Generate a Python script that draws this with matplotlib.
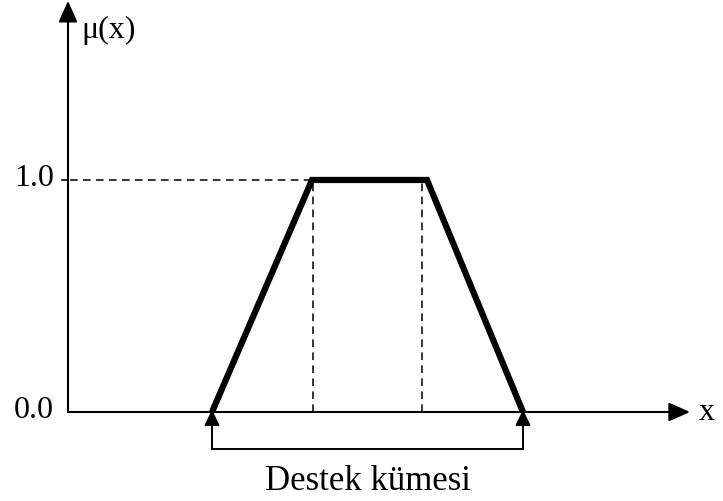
import matplotlib
matplotlib.use("Agg")
import matplotlib.pyplot as plt
from matplotlib.patches import ArrowStyle

# trapezoid membership function corners (x positions)
trap_x = [1.44, 2.44, 3.59, 4.55]
trap_y = [0.0, 1.0, 1.0, 0.0]
core_x = [2.45, 3.54]          # dashed drop lines under the plateau
support = [1.44, 4.55]         # "Destek kümesi" bracket ends
y_ticks = [0.0, 1.0]
y_tick_labels = ["0.0", "1.0"]

plt.rcParams['font.family'] = ['Liberation Serif', 'DejaVu Serif']

fig = plt.figure(figsize=(7.23, 5.02), dpi=100)
ax = fig.add_axes([0, 0, 1, 1])
ax.set_xlim(-0.68, 6.55)
ax.set_ylim(-0.3836, 1.780)
ax.axis('off')

# axes with arrow heads
big = ArrowStyle('-|>', head_length=13, head_width=5.8)
ax.annotate('', xy=(6.22, 0), xytext=(0, 0),
            arrowprops=dict(arrowstyle=big, mutation_scale=1, lw=1.5, color='k',
                            shrinkA=0, shrinkB=0))
ax.annotate('', xy=(0, 1.772), xytext=(0, 0),
            arrowprops=dict(arrowstyle=big, mutation_scale=1, lw=1.5, color='k',
                            shrinkA=0, shrinkB=0))

# tick at 1.0 and labels
ax.plot([-0.06, 0], [1.0, 1.0], color='k', lw=1.2)
for yv, lab in zip(y_ticks, y_tick_labels):
    ax.text(-0.14, yv - 0.022, lab, ha='right', va='baseline', fontsize=23)

ax.text(0.13, 1.65, "μ(x)", ha='left', va='center', fontsize=23)
ax.text(6.31, 0.0, "x", ha='left', va='center', fontsize=23)

# dashed guides
ax.plot([0.02, trap_x[1]], [1.0, 1.0], color='k', lw=1.1, linestyle=(0, (5, 3.5)))
for cx in core_x:
    ax.plot([cx, cx], [0, 1.0], color='k', lw=1.1, linestyle=(0, (5, 3.5)))

# trapezoid
ax.plot(trap_x, trap_y, color='k', lw=4.5, solid_joinstyle='miter', solid_capstyle='butt')

# support bracket
ybr = -0.16
ax.plot([support[0], support[1]], [ybr, ybr], color='k', lw=1.4)
small = ArrowStyle('-|>', head_length=9.5, head_width=4.6)
for sx in support:
    ax.annotate('', xy=(sx, 0.01), xytext=(sx, ybr),
                arrowprops=dict(arrowstyle=small, mutation_scale=1, lw=1.4, color='k',
                                shrinkA=0, shrinkB=0))
ax.text(sum(support) / 2, -0.332, "Destek kümesi", ha='center', va='baseline', fontsize=25)

fig.savefig("out.png", dpi=100)
